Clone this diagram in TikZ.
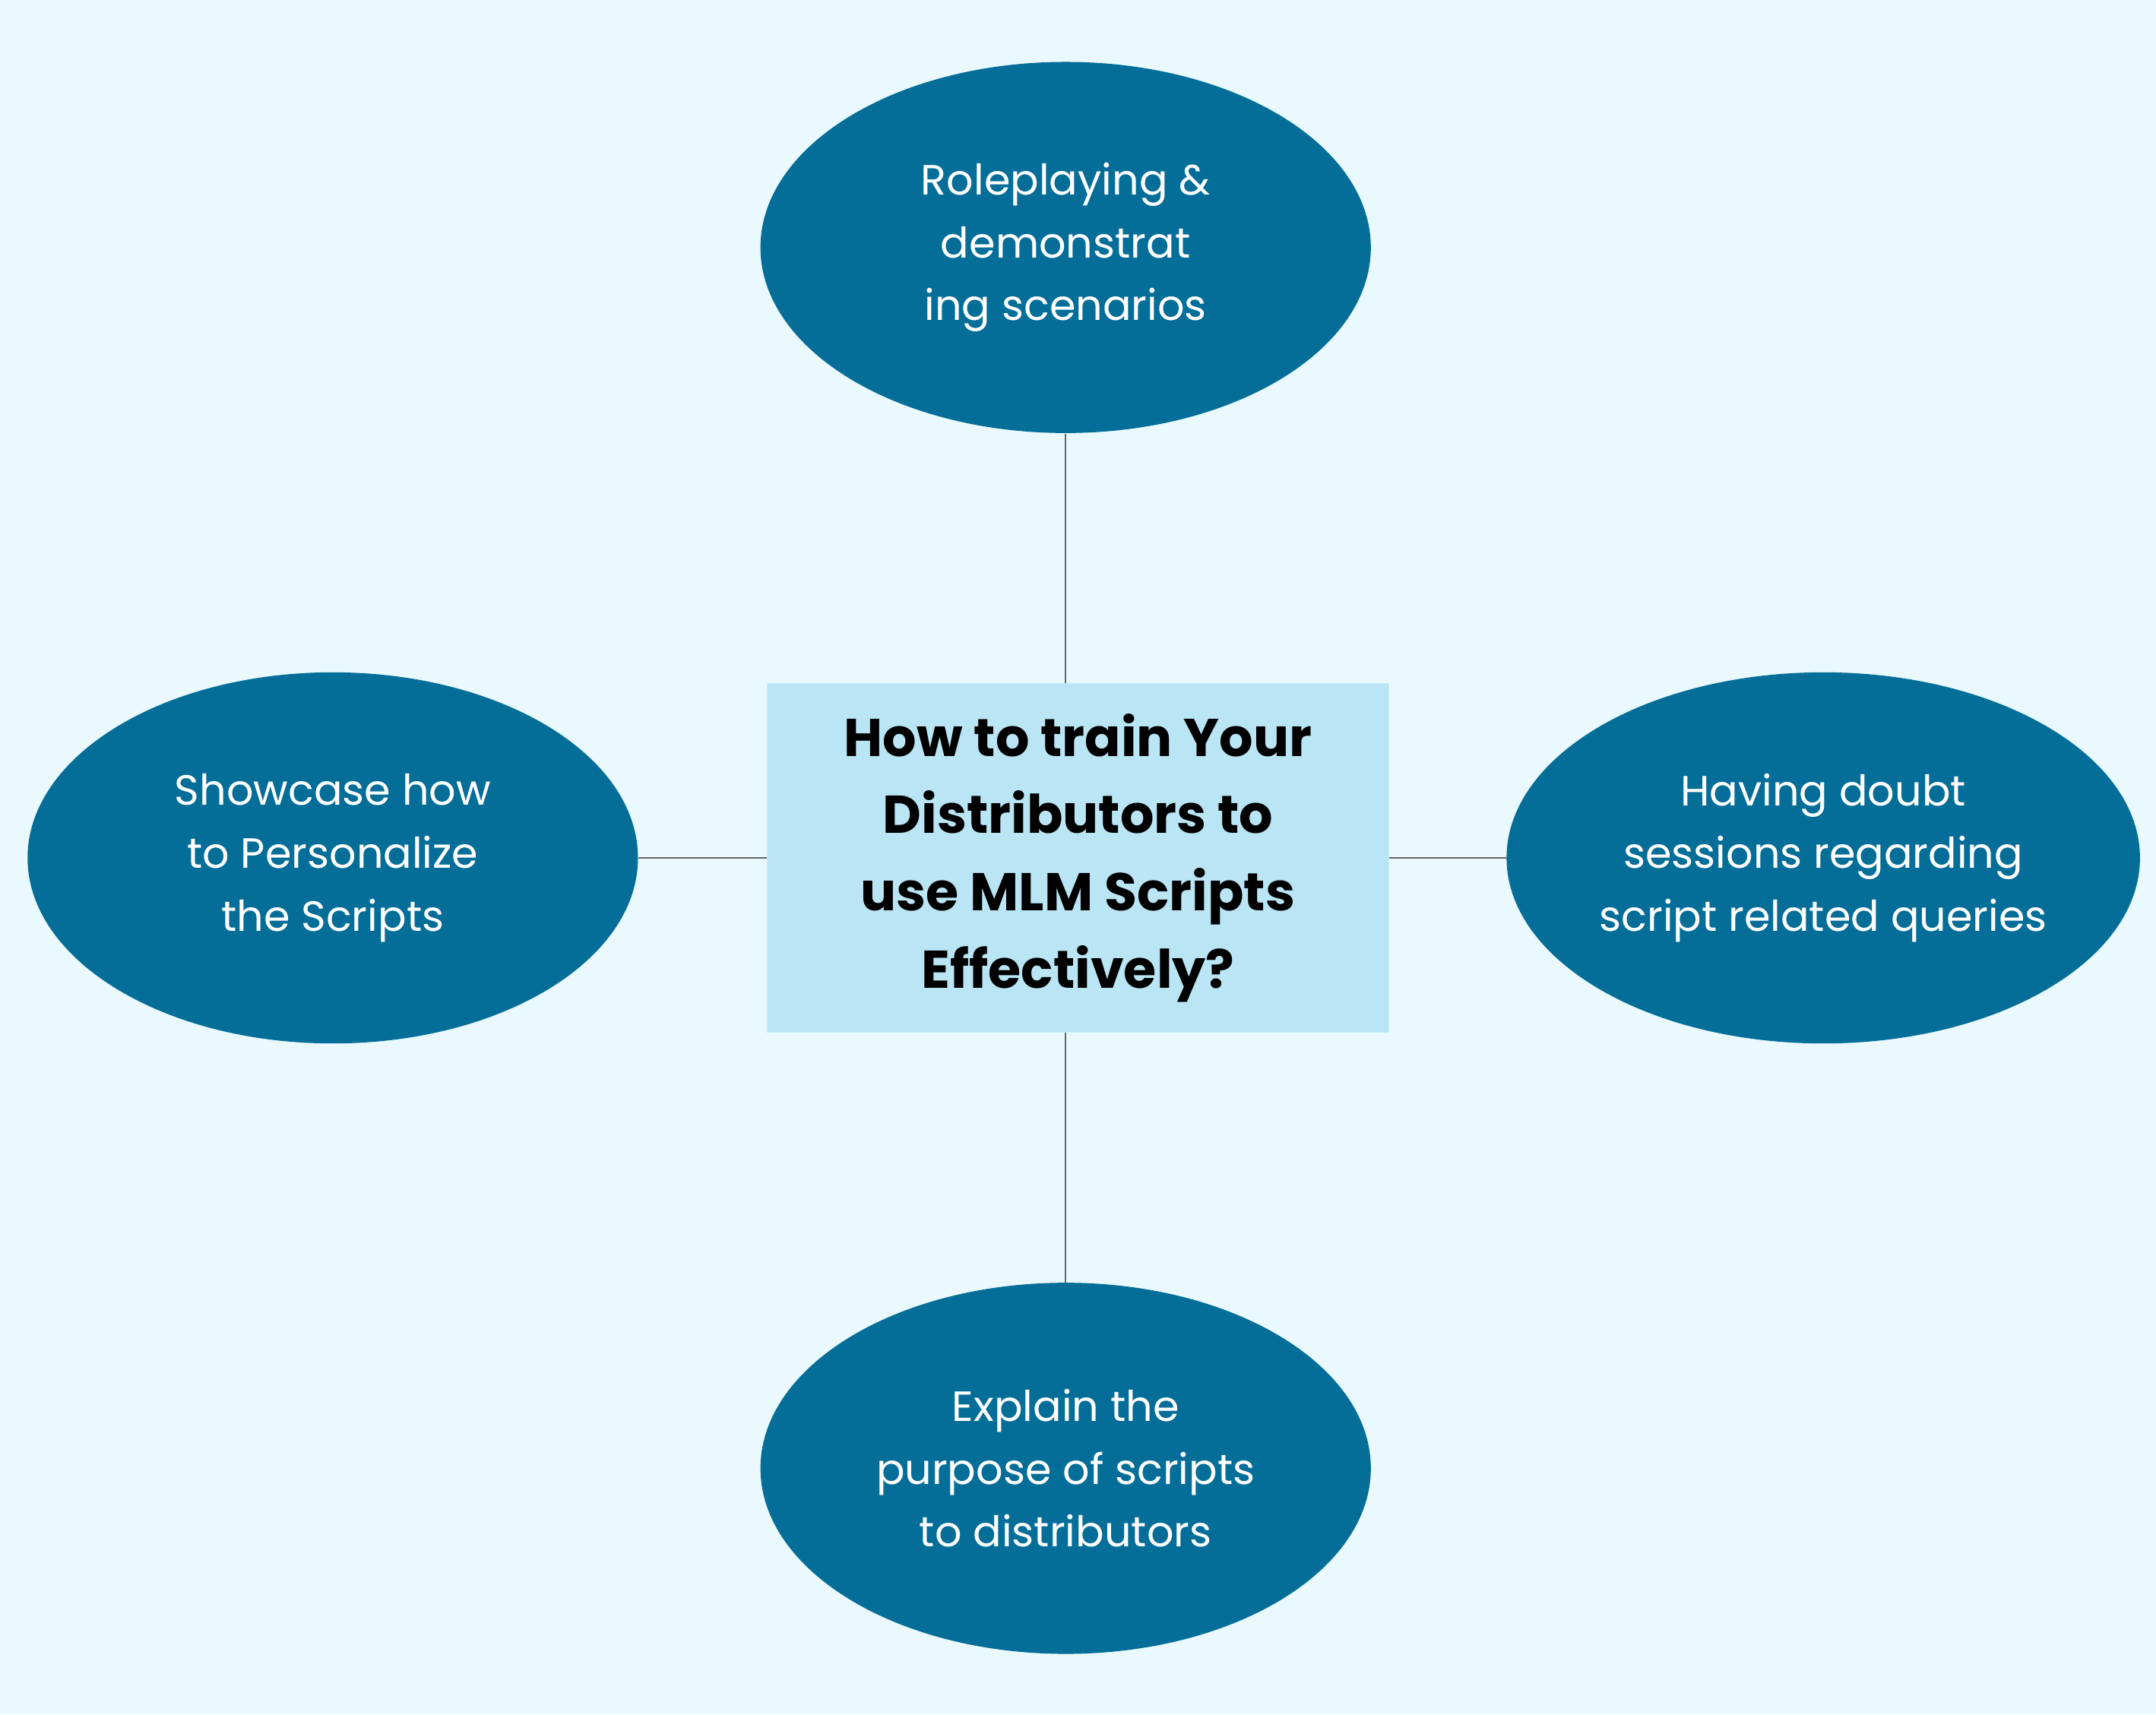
\documentclass[tikz,border=0pt]{standalone}
\usepackage{fontspec}
\setmainfont{Poppins}
\usetikzlibrary{shapes.geometric}
\definecolor{bg}{HTML}{E9F9FD}
\definecolor{ell}{HTML}{046E99}
\definecolor{box}{HTML}{B9E5F5}
\tikzset{
  px/.style={x=0.02cm,y=-0.02cm},
  oval/.style={ellipse,fill=ell,text=white,minimum width=8.88cm,minimum height=5.4cm,inner sep=0pt,align=center,font=\fontsize{17.5}{26}\selectfont},
  centerbox/.style={rectangle,fill=box,draw=box!80!white,minimum width=9.04cm,minimum height=5.08cm,inner sep=0pt,align=center,font=\bfseries\fontsize{22}{32}\selectfont},
  link/.style={draw=black!60,line width=0.6pt}
}
\begin{document}
\begin{tikzpicture}[px]
\fill[bg] (0,0) rectangle (1568,1247);
\useasboundingbox (0,0) rectangle (1568,1247);
\node[centerbox] (c) at (784,624) {How to train Your\\Distributors to\\use MLM Scripts\\Effectively?};
\node[oval] (t) at (775,180) {Roleplaying \&\\demonstrat\\ing scenarios};
\node[oval] (l) at (242,624) {Showcase how\\to Personalize\\the Scripts};
\node[oval] (r) at (1326,624) {Having doubt\\sessions regarding\\script related queries};
\node[oval] (b) at (775,1068) {Explain the\\purpose of scripts\\to distributors};
\draw[link] (t.south) -- (t.south |- c.north);
\draw[link] (b.north) -- (b.north |- c.south);
\draw[link] (l.east) -- (c.west);
\draw[link] (c.east) -- (r.west);
\end{tikzpicture}
\end{document}
